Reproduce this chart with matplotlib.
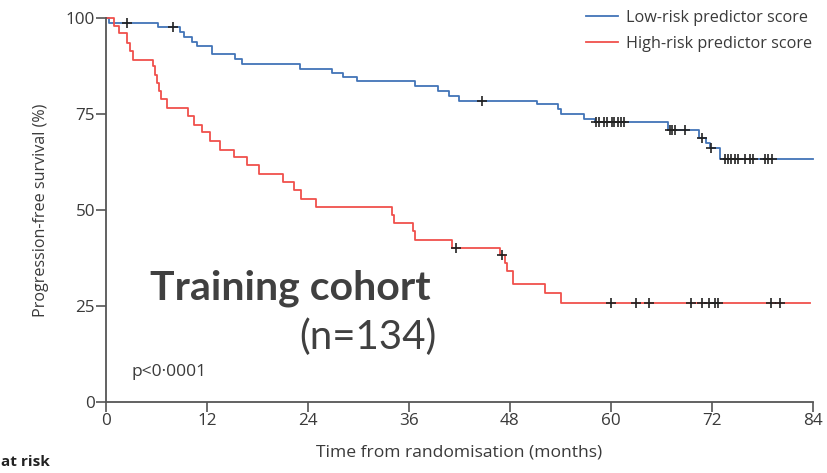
import matplotlib
matplotlib.use("Agg")
import matplotlib.pyplot as plt
import numpy as np

# Kaplan-Meier steps (months, % progression-free)
low_t = [0, 0.3, 6.2, 8.8, 9.3, 10.2, 10.8, 12.6, 15.3, 16.2, 23.1, 26.9, 28.1, 29.8,
         36.7, 39.5, 40.7, 41.9, 51.2, 53.7, 54.1, 56.8, 58.1, 66.8, 70.5, 71.3, 71.8,
         72.9, 84]
low_s = [100, 98.6, 97.6, 96.4, 95.1, 93.8, 92.7, 90.6, 89.3, 88.0, 86.8, 85.8, 84.6, 83.5,
         82.3, 80.9, 79.7, 78.5, 77.6, 76.3, 75.0, 73.7, 72.8, 70.9, 68.7, 67.5, 66.2,
         63.4, 63.4]
low_censor = [2.5, 8.0, 44.7, 58.2, 58.6, 59.2, 59.5, 60.1, 60.4, 60.8, 61.2, 61.6,
              67.0, 67.3, 67.6, 68.8, 70.8, 71.9, 73.5, 73.9, 74.3, 74.7, 75.1, 75.9,
              76.5, 76.9, 78.3, 78.7, 79.1]

high_t = [0, 0.9, 1.5, 2.5, 2.9, 3.2, 5.6, 5.8, 6.0, 6.3, 6.5, 7.2, 9.8, 10.4, 11.4, 12.4,
          13.5, 15.2, 16.8, 18.2, 21.0, 22.3, 23.2, 24.9, 34.0, 34.2, 36.5, 36.7, 41.1,
          46.8, 47.4, 47.7, 48.3, 52.2, 54.0, 83.7]
high_s = [100, 97.8, 96.0, 93.4, 91.3, 89.1, 87.4, 85.2, 83.0, 80.9, 78.9, 76.5, 74.4, 72.2,
          70.2, 67.9, 65.7, 63.8, 61.6, 59.5, 57.2, 55.1, 52.9, 50.8, 48.6, 46.6, 44.5,
          42.2, 40.2, 38.4, 36.3, 34.0, 30.6, 28.3, 25.9, 25.9]
high_censor = [41.6, 47.1, 60.0, 63.0, 64.5, 69.5, 70.8, 71.7, 72.4, 72.7, 79.0, 80.1]

x_ticks = [0, 12, 24, 36, 48, 60, 72, 84]
y_ticks = [0, 25, 50, 75, 100]

BLUE = "#4274b8"
RED = "#f0504c"
GREY = "#3a3a3a"
FONT = "Open Sans"
BIG_FONT = "Lato"


def step_value(times, surv, at):
    """Survival value of a right-continuous step curve at the given times."""
    idx = np.searchsorted(times, at, side="right") - 1
    return np.asarray(surv)[idx]


fig = plt.figure(figsize=(8.27, 4.73), dpi=100)
ax = fig.add_axes([106 / 827, 1 - 402 / 473, 707 / 827, 384 / 473])

ax.step(low_t, low_s, where="post", color=BLUE, lw=1.3, clip_on=False,
        label="Low-risk predictor score")
ax.step(high_t, high_s, where="post", color=RED, lw=1.3, clip_on=False,
        label="High-risk predictor score")
ax.plot(low_censor, step_value(low_t, low_s, low_censor), ls="none", marker="+",
        ms=7, mew=1.2, color="#222222", clip_on=False)
ax.plot(high_censor, step_value(high_t, high_s, high_censor), ls="none", marker="+",
        ms=7, mew=1.2, color="#222222", clip_on=False)

ax.set_xlim(0, 84)
ax.set_ylim(0, 100)
ax.set_xticks(x_ticks)
ax.set_yticks(y_ticks)
for side in ("top", "right"):
    ax.spines[side].set_visible(False)
for side in ("left", "bottom"):
    ax.spines[side].set_color("#555555")
    ax.spines[side].set_linewidth(1.3)
ax.tick_params(length=7, width=1.2, color="#555555", labelcolor=GREY, labelsize=12.3,
               pad=1)
for lab in ax.get_xticklabels() + ax.get_yticklabels():
    lab.set_family(FONT)

ax.set_xlabel("Time from randomisation (months)", family=FONT, fontsize=12.6,
              color=GREY, labelpad=11)
ax.set_ylabel("Progression-free survival (%)", family=FONT, fontsize=11.6,
              color=GREY, labelpad=12)

leg = ax.legend(loc="upper right", bbox_to_anchor=(1.02, 1.06), frameon=False,
                prop={"family": FONT, "size": 11.7}, handlelength=2.0,
                handletextpad=0.5, labelspacing=0.62)
for t in leg.get_texts():
    t.set_color(GREY)

ax.text(3, 6.8, "p<0\u00b70001", family=FONT, fontsize=12.5, color=GREY)
ax.text(150 / 827, 1 - 299 / 473, "Training cohort", transform=fig.transFigure,
        family=BIG_FONT, fontsize=29.5, fontweight="bold", color="#404040")
ax.text(299 / 827, 1 - 349 / 473, "(n=134)", transform=fig.transFigure,
        family=BIG_FONT, fontsize=29, color="#404040")
fig.text(1 / 827, 1 - 462 / 473, "at risk", family=FONT, fontsize=11,
         fontweight="bold", color="#222222", va="center")

fig.savefig("out.png", dpi=100)
